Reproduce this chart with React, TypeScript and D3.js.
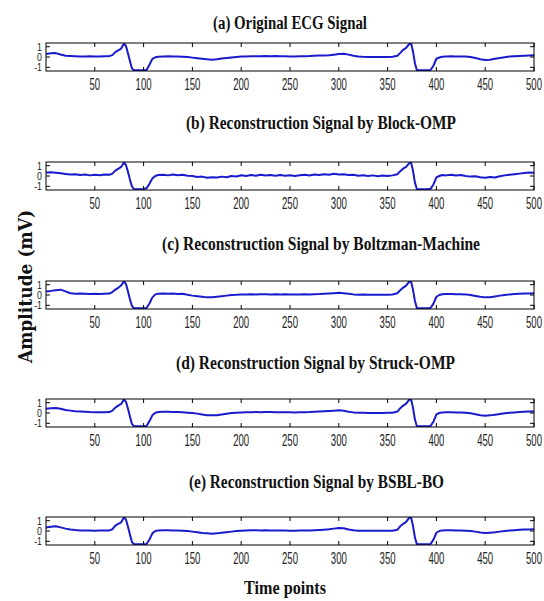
import React from "react";
import * as d3 from "d3";

const svgWidth = 544;
const svgHeight = 601;
const plotLeft = 46;
const plotRight = 534;
const plotHeight = 28;

// sample positions shared by all five traces
const timePoints = [
  0, 5, 10, 15, 20, 25, 30, 35, 40, 45, 50, 55, 60, 65,
  68, 71, 74, 77, 80, 82, 84, 86, 88, 90,
  95, 100, 103, 106, 109, 112, 115,
  120, 125, 130, 135, 140, 145, 150, 155, 160, 165, 170, 175, 180, 185, 190, 195, 200, 205, 210, 215, 220, 225, 230, 235,
  240, 245, 250, 255, 260, 265, 270, 275, 280, 285, 290, 295, 300, 305, 310, 315, 320, 325, 330, 335, 340, 345, 350, 355,
  360, 363, 366, 369, 372, 374, 376, 378, 380,
  385, 390, 394, 397, 400, 403, 406, 410,
  415, 420, 425, 430, 435, 440, 445, 450, 455, 460, 465, 470, 475, 480, 485, 490, 495, 500,
];

const ampOriginal = [
  0.3, 0.36, 0.38, 0.24, 0.12, 0.09, 0.07, 0.06, 0.06, 0.07, 0.06, 0.06, 0.07, 0.09,
  0.18, 0.47, 0.65, 0.82, 1.32, 1.05, 0.35, -0.4, -1.1, -1.28,
  -1.28, -1.28, -1.26, -0.75, -0.18, -0.03, 0.03,
  0.06, 0.07, 0.06, 0.05, 0.03, 0.0, -0.06, -0.12, -0.18, -0.23, -0.26, -0.21, -0.14, -0.09, -0.04, 0.0, 0.04, 0.06, 0.07, 0.08, 0.07, 0.09, 0.08, 0.09,
  0.08, 0.07, 0.06, 0.06, 0.07, 0.08, 0.09, 0.12, 0.14, 0.15, 0.18, 0.23, 0.28, 0.32, 0.23, 0.12, 0.05, 0.02, 0.01, 0.01, 0.0, 0.01, 0.0, 0.02,
  0.12, 0.4, 0.7, 0.88, 1.25, 1.34, 0.55, -0.6, -1.28,
  -1.28, -1.28, -1.26, -0.85, -0.17, -0.05, 0.02, 0.06,
  0.07, 0.06, 0.06, 0.05, 0.0, -0.09, -0.21, -0.29, -0.26, -0.18, -0.09, -0.02, 0.04, 0.07, 0.09, 0.12, 0.14, 0.16,
];

const ampBlockOmp = [
  0.35, 0.37, 0.32, 0.26, 0.2, 0.14, 0.18, 0.09, 0.14, 0.06, 0.12, 0.07, 0.14, 0.12,
  0.23, 0.52, 0.7, 0.88, 1.32, 1.05, 0.4, -0.35, -1.0, -1.28,
  -1.28, -1.26, -1.2, -0.75, -0.23, 0.0, 0.09,
  0.12, 0.06, 0.14, 0.07, 0.12, 0.02, 0.0, -0.09, -0.06, -0.17, -0.12, -0.14, -0.06, -0.12, 0.0, -0.04, 0.07, 0.0, 0.09, 0.02, 0.12, 0.05, 0.1, 0.03,
  0.09, 0.02, 0.08, 0.0, 0.07, 0.12, 0.05, 0.14, 0.09, 0.17, 0.12, 0.21, 0.14, 0.18, 0.09, 0.12, 0.02, 0.07, 0.0, 0.06, -0.02, 0.05, 0.0, 0.06,
  0.17, 0.47, 0.72, 0.88, 1.23, 1.34, 0.52, -0.64, -1.28,
  -1.28, -1.28, -1.25, -0.82, -0.14, 0.0, 0.09, 0.06,
  0.12, 0.05, 0.09, 0.0, -0.06, -0.02, -0.12, -0.17, -0.09, -0.14, -0.02, 0.06, 0.12, 0.17, 0.23, 0.29, 0.35, 0.32,
];

const ampBoltzman = [
  0.35, 0.4, 0.47, 0.52, 0.35, 0.17, 0.12, 0.14, 0.12, 0.09, 0.12, 0.1, 0.12, 0.14,
  0.29, 0.52, 0.7, 0.93, 1.34, 1.05, 0.35, -0.41, -1.05, -1.28,
  -1.28, -1.28, -1.26, -0.82, -0.23, 0.06, 0.12,
  0.14, 0.12, 0.14, 0.09, 0.12, 0.02, -0.06, -0.12, -0.17, -0.23, -0.21, -0.17, -0.12, -0.06, 0.0, 0.02, 0.06, 0.05, 0.07, 0.06, 0.08, 0.07, 0.06, 0.07,
  0.06, 0.07, 0.06, 0.05, 0.06, 0.07, 0.06, 0.08, 0.09, 0.12, 0.14, 0.17, 0.21, 0.17, 0.12, 0.06, 0.03, 0.05, 0.02, 0.03, 0.02, 0.03, 0.02, 0.05,
  0.17, 0.47, 0.72, 0.91, 1.28, 1.34, 0.52, -0.58, -1.28,
  -1.28, -1.28, -1.26, -0.84, -0.17, 0.0, 0.07, 0.09,
  0.09, 0.07, 0.08, 0.06, 0.0, -0.09, -0.17, -0.23, -0.21, -0.14, -0.06, 0.0, 0.06, 0.09, 0.12, 0.14, 0.15, 0.17,
];

const ampStruckOmp = [
  0.41, 0.47, 0.49, 0.41, 0.29, 0.23, 0.17, 0.14, 0.12, 0.09, 0.08, 0.07, 0.07, 0.09,
  0.23, 0.52, 0.72, 0.88, 1.34, 1.07, 0.41, -0.35, -1.05, -1.28,
  -1.28, -1.28, -1.26, -0.79, -0.23, 0.02, 0.09,
  0.12, 0.12, 0.1, 0.09, 0.07, 0.03, 0.0, -0.06, -0.14, -0.21, -0.23, -0.21, -0.14, -0.07, 0.0, 0.03, 0.06, 0.07, 0.08, 0.09, 0.08, 0.09, 0.09, 0.08,
  0.08, 0.07, 0.07, 0.06, 0.07, 0.08, 0.09, 0.12, 0.14, 0.16, 0.19, 0.23, 0.26, 0.21, 0.12, 0.06, 0.02, 0.02, 0.01, 0.01, 0.0, 0.01, 0.02, 0.03,
  0.14, 0.47, 0.72, 0.91, 1.28, 1.34, 0.52, -0.64, -1.28,
  -1.28, -1.28, -1.26, -0.84, -0.14, 0.0, 0.06, 0.07,
  0.07, 0.06, 0.06, 0.03, -0.02, -0.12, -0.21, -0.26, -0.23, -0.16, -0.09, -0.02, 0.02, 0.06, 0.09, 0.12, 0.14, 0.15,
];

const ampBsblBo = [
  0.35, 0.41, 0.47, 0.35, 0.23, 0.14, 0.09, 0.06, 0.05, 0.05, 0.03, 0.05, 0.05, 0.06,
  0.17, 0.52, 0.7, 0.84, 1.34, 1.1, 0.41, -0.35, -1.05, -1.28,
  -1.28, -1.28, -1.26, -0.82, -0.23, 0.0, 0.06,
  0.07, 0.07, 0.06, 0.06, 0.03, 0.0, -0.06, -0.12, -0.19, -0.23, -0.26, -0.23, -0.17, -0.12, -0.06, 0.0, 0.03, 0.06, 0.07, 0.07, 0.06, 0.07, 0.06, 0.06,
  0.05, 0.05, 0.03, 0.03, 0.05, 0.05, 0.06, 0.07, 0.09, 0.12, 0.16, 0.23, 0.29, 0.26, 0.14, 0.07, 0.03, 0.03, 0.02, 0.02, 0.02, 0.03, 0.02, 0.03,
  0.12, 0.47, 0.7, 0.88, 1.28, 1.34, 0.52, -0.64, -1.28,
  -1.28, -1.28, -1.26, -0.84, -0.17, 0.0, 0.06, 0.07,
  0.07, 0.06, 0.06, 0.03, 0.0, -0.06, -0.14, -0.19, -0.16, -0.12, -0.06, 0.0, 0.05, 0.08, 0.12, 0.14, 0.15, 0.16,
];

const panelTitles = [
  "(a) Original ECG Signal",
  "(b) Reconstruction Signal by Block-OMP",
  "(c) Reconstruction Signal by Boltzman-Machine",
  "(d) Reconstruction Signal by Struck-OMP",
  "(e) Reconstruction Signal by BSBL-BO",
];
const panelSeries = [ampOriginal, ampBlockOmp, ampBoltzman, ampStruckOmp, ampBsblBo];
const xTicks = [50, 100, 150, 200, 250, 300, 350, 400, 450, 500];
const yTicks = [-1, 0, 1];

// layout
const panelTops = [43, 162, 281, 399, 517];
const titleBaselines = [29, 129, 250, 369, 488];
const titleSpans = [
  [213, 367],
  [186, 456],
  [162, 480],
  [176, 455],
  [189, 444],
];

const xScale = d3.scaleLinear().domain([0, 500]).range([plotLeft, plotRight]);

const tickFont = "'Liberation Sans', Arial, sans-serif";
const titleFont = "'Liberation Serif', 'Times New Roman', serif";

function Panel({ index }: { index: number }) {
  const top = panelTops[index];
  const yScale = d3
    .scaleLinear()
    .domain([-1.36, 1.36])
    .range([top + plotHeight, top]);
  const values = panelSeries[index];
  const line = d3
    .line<number>()
    .x((_, i) => xScale(timePoints[i]))
    .y((d) => yScale(d));
  const [x0, x1] = titleSpans[index];
  const clipId = `clip-${index}`;

  return (
    <g>
      <text
        x={x0}
        y={titleBaselines[index]}
        textLength={x1 - x0}
        lengthAdjust="spacingAndGlyphs"
        fontFamily={titleFont}
        fontWeight="bold"
        fontSize={18}
        fill="#111"
      >
        {panelTitles[index]}
      </text>
      <clipPath id={clipId}>
        <rect x={plotLeft} y={top} width={plotRight - plotLeft} height={plotHeight} />
      </clipPath>
      <rect
        x={plotLeft}
        y={top}
        width={plotRight - plotLeft}
        height={plotHeight}
        fill="#fff"
      />
      <path
        d={line(values) || ""}
        fill="none"
        stroke="#1a1acd"
        strokeWidth={2}
        strokeLinejoin="round"
        clipPath={`url(#${clipId})`}
      />
      {xTicks.map((t) => (
        <g key={t}>
          <line x1={xScale(t)} x2={xScale(t)} y1={top} y2={top + 4} stroke="#000" />
          <line
            x1={xScale(t)}
            x2={xScale(t)}
            y1={top + plotHeight}
            y2={top + plotHeight - 4}
            stroke="#000"
          />
          <text
            transform={`translate(${xScale(t)},${top + plotHeight + 19}) scale(0.6,1)`}
            textAnchor="middle"
            fontFamily={tickFont}
            fontSize={16}
            fill="#222"
          >
            {t}
          </text>
        </g>
      ))}
      {yTicks.map((t) => (
        <g key={t}>
          <line x1={plotLeft} x2={plotLeft + 4} y1={yScale(t)} y2={yScale(t)} stroke="#000" />
          <line
            x1={plotRight}
            x2={plotRight - 4}
            y1={yScale(t)}
            y2={yScale(t)}
            stroke="#000"
          />
          <text
            transform={`translate(${plotLeft - 4},${yScale(t) + 4}) scale(0.8,1)`}
            textAnchor="end"
            fontFamily={tickFont}
            fontSize={11}
            fill="#222"
          >
            {t}
          </text>
        </g>
      ))}
      <rect
        x={plotLeft}
        y={top}
        width={plotRight - plotLeft}
        height={plotHeight}
        fill="none"
        stroke="#000"
        strokeWidth={1}
      />
    </g>
  );
}

export default function App() {
  return (
    <svg
      width={svgWidth}
      height={svgHeight}
      style={{ position: "absolute", left: 0, top: 0, background: "#fff" }}
    >
      {panelTitles.map((_, i) => (
        <Panel key={i} index={i} />
      ))}
      <text
        x={244}
        y={594}
        textLength={82}
        lengthAdjust="spacingAndGlyphs"
        fontFamily={titleFont}
        fontWeight="bold"
        fontSize={19}
        fill="#111"
      >
        Time points
      </text>
      <text
        transform="translate(32,363) rotate(-90)"
        textLength={153}
        lengthAdjust="spacingAndGlyphs"
        fontFamily="'DejaVu Serif', serif"
        fontWeight="bold"
        fontSize={18}
        fill="#111"
      >
        Amplitude (mV)
      </text>
    </svg>
  );
}
